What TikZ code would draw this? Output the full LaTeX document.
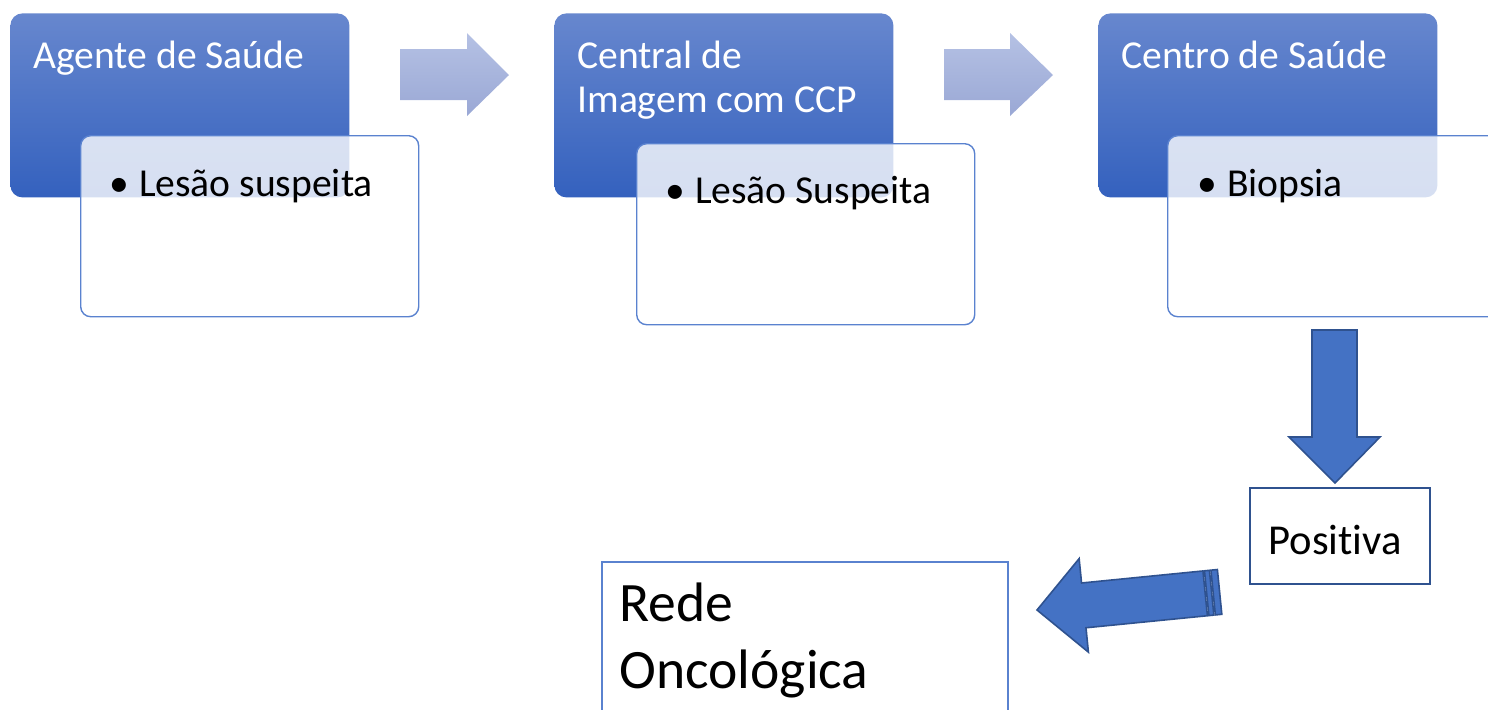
\documentclass[tikz,border=0pt]{standalone}
\usepackage{fontspec}
\setmainfont{Carlito}[Ligatures=NoCommon]
\usepackage{tikz}

\definecolor{hdtop}{HTML}{6787CE}
\definecolor{hdbot}{HTML}{3461BE}
\definecolor{paletop}{HTML}{B5C1E4}
\definecolor{palebot}{HTML}{9AA8D5}
\definecolor{accent}{HTML}{4472C4}
\definecolor{accentdk}{HTML}{2F528F}
\definecolor{boxline}{HTML}{5A82CF}

\begin{document}
\begin{tikzpicture}[x=0.5pt,y=-0.5pt]
    \tikzstyle{stage}=[anchor=north west,inner sep=0pt,rounded corners=6pt,top color=hdtop,bottom color=hdbot,minimum width=169.5pt,minimum height=92pt]
    \tikzstyle{card}=[anchor=north west,inner sep=0pt,rounded corners=5pt,draw=boxline,line width=0.7pt,fill=white,fill opacity=0.8,minimum width=169pt,minimum height=90.5pt]
    \tikzstyle{title}=[anchor=base west,inner sep=0pt,text=white,align=left,font=\fontsize{19.8}{22}\selectfont]
    \tikzstyle{item}=[anchor=base west,inner sep=0pt,font=\fontsize{19.8}{22}\selectfont]
    \tikzstyle{flow}=[top color=paletop,bottom color=palebot]
    \tikzstyle{bigarrow}=[fill=accent,draw=accentdk,line width=0.8pt,line join=miter]

    \clip (0,0) rectangle (1488,709);

    % stages
    \node[stage] (agente) at (10,13) {};
    \node[stage] (central) at (554,13) {};
    \node[stage] (centro) at (1098,13) {};

    \node[title] (agentetxt) at (33,68) {Agente de Saúde};
    \node[title] (centraltxt) at (577,112) {Central de\\Imagem com CCP};
    \node[title] (centrotxt) at (1121,68) {Centro de Saúde};

    % cards
    \node[card] (lesao) at (80,135) {};
    \node[card] (lesao2) at (636,143) {};
    \node[card] (biopsia) at (1167,135) {};

    \node[item] (lesaotxt) at (109,196) {•\hspace{5pt}Lesão suspeita};
    \node[item] (lesao2txt) at (665,203) {•\hspace{5pt}Lesão Suspeita};
    \node[item] (biopsiatxt) at (1197,196) {•\hspace{5pt}Biopsia};

    % arrows between stages
    \path[flow] (400,49) -- (467,49) -- (467,33) -- (509,75) -- (467,116) -- (467,100) -- (400,100) -- cycle;
    \path[flow] (944,49) -- (1010,49) -- (1010,33) -- (1053,75) -- (1010,116) -- (1010,100) -- (944,100) -- cycle;

    % result
    \draw[bigarrow] (1312,330) -- (1357,330) -- (1357,437) -- (1380,437) -- (1335,483) -- (1289,437) -- (1312,437) -- cycle;

    \node[anchor=north west,inner sep=0pt,draw=accentdk,line width=0.8pt,minimum width=90pt,minimum height=48pt] (positiva) at (1249,487) {};
    \node[anchor=base west,inner sep=0pt,font=\fontsize{21.3}{24}\selectfont] (positivatxt) at (1268,554) {Positiva};

    \begin{scope}[shift={(1037,610)},rotate=5.66]
        \draw[bigarrow] (0,0) -- (47,-47) -- (47,-22.5) -- (169,-22.5) -- (169,22.5) -- (47,22.5) -- (47,47) -- cycle;
        \draw[bigarrow] (170.5,-22.5) rectangle (175.5,22.5);
        \draw[bigarrow] (177,-22.5) rectangle (183.5,22.5);
    \end{scope}

    \node[anchor=north west,inner sep=0pt,draw=boxline,line width=0.9pt,minimum width=203pt,minimum height=110pt] (rede) at (601,561) {};
    \node[anchor=base west,inner sep=0pt,align=left,font=\fontsize{27.8}{33.5}\selectfont] (redetxt) at (619,688) {Rede\\Oncológica};
\end{tikzpicture}
\end{document}
